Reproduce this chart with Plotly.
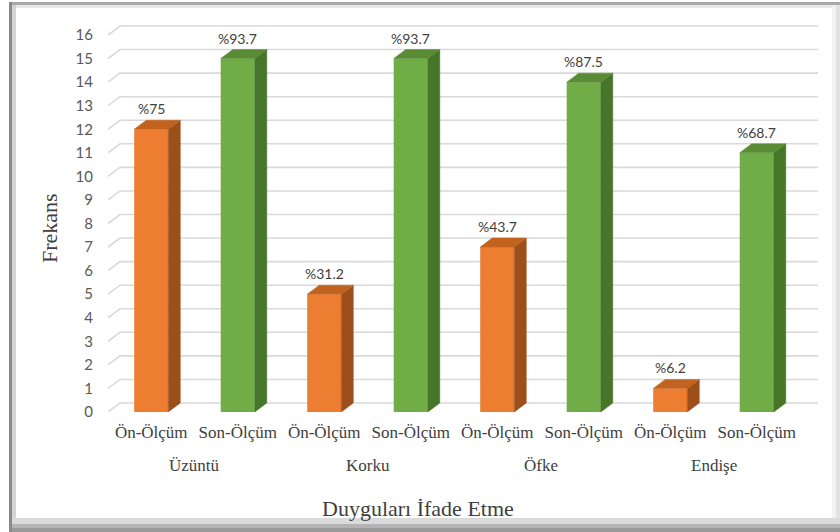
import plotly.graph_objects as go

# ---- data ----
groups = ["Üzüntü", "Korku", "Öfke", "Endişe"]
measures = ["Ön-Ölçüm", "Son-Ölçüm"]
pre_values = [12, 5, 7, 1]
post_values = [15, 15, 14, 11]
pre_labels = ["%75", "%31.2", "%43.7", "%6.2"]
post_labels = ["%93.7", "%93.7", "%87.5", "%68.7"]
y_ticks = list(range(0, 17))

# ---- geometry (pixel layout) ----
W, H = 840, 532
L, R, T, B = 108, 22, 20, 120
PW, PH = W - L - R, H - T - B
SLOT = 86.5                      # px per bar slot
PXY = 23.5625                    # px per unit value
XR = [-0.5, -0.5 + PW / SLOT]
YR = [0, PH / PXY]
DX = 12 / SLOT                   # depth offset (x units)
DY = 9 / PXY                     # depth offset (y units)
HW = 0.197                       # half bar width

ORANGE = dict(front="#ED7D31", side="#9C4E1B", top="#C2621F")
GREEN = dict(front="#70AD47", side="#47762A", top="#5A8C35")

xs, vals, labs, cols = [], [], [], []
for i in range(len(groups)):
    xs += [2 * i, 2 * i + 1]
    vals += [pre_values[i], post_values[i]]
    labs += [pre_labels[i], post_labels[i]]
    cols += [ORANGE, GREEN]

fig = go.Figure()

shapes = []
# gridlines with perspective (back wall), drawn below the traces
for v in y_ticks:
    shapes.append(dict(type="path", xref="x", yref="y", layer="below",
                       path=f"M{XR[0]},{v} L{XR[0] + DX},{v + DY} L{XR[1]},{v + DY}",
                       line=dict(color="#D9D9D9", width=1.6)))

# side and top faces
for x, v, c in zip(xs, vals, cols):
    x0, x1 = x - HW, x + HW
    fig.add_trace(go.Scatter(
        x=[x1, x1 + DX, x1 + DX, x1, x1], y=[0, DY, v + DY, v, 0],
        mode="lines", fill="toself", fillcolor=c["side"],
        line=dict(color=c["side"], width=0.5),
        hoverinfo="skip", showlegend=False))
    fig.add_trace(go.Scatter(
        x=[x0, x0 + DX, x1 + DX, x1, x0], y=[v, v + DY, v + DY, v, v],
        mode="lines", fill="toself", fillcolor=c["top"],
        line=dict(color=c["top"], width=0.5),
        hoverinfo="skip", showlegend=False))

# front faces
fig.add_trace(go.Bar(x=xs, y=vals, width=2 * HW,
                     marker=dict(color=[c["front"] for c in cols], line=dict(width=0)),
                     hoverinfo="skip", showlegend=False))

annotations = []
for x, v, t in zip(xs, vals, labs):
    annotations.append(dict(x=x, y=v + DY, xref="x", yref="y", text=t,
                            showarrow=False, yanchor="bottom", yshift=1,
                            font=dict(family="Lato", size=14, color="#404040")))
for i, g in enumerate(groups):
    annotations.append(dict(x=2 * i + 0.5, y=0, xref="x", yref="paper", text=g,
                            showarrow=False, yanchor="middle", yshift=-53,
                            font=dict(family="Liberation Serif", size=17, color="#404040")))

def px(p):
    return (p - L) / PW

def py(p):
    return (H - B - p) / PH

annotations.append(dict(x=px(418), y=py(508), xref="paper", yref="paper",
                        text="Duyguları İfade Etme", showarrow=False,
                        xanchor="center", yanchor="middle",
                        font=dict(family="Liberation Serif", size=22, color="#404040")))
annotations.append(dict(x=px(50), y=py(228), xref="paper", yref="paper",
                        text="Frekans", showarrow=False, textangle=-90,
                        xanchor="center", yanchor="middle",
                        font=dict(family="Liberation Serif", size=22, color="#404040")))

# frame decoration
def rect(x0, y0, x1, y1, color):
    shapes.append(dict(type="rect", xref="paper", yref="paper",
                       x0=px(x0), x1=px(x1), y0=py(y1), y1=py(y0),
                       fillcolor=color, line=dict(width=0), layer="below"))
rect(10, 2, 840, 5, "#A8A8A8")
rect(12, 5, 840, 8, "#E8E8E8")
rect(9, 2, 12, 532, "#8A8A8A")
rect(12, 5, 16, 532, "#D4D4D4")
rect(832, 5, 836, 520, "#F2F2F2")
rect(836, 5, 840, 520, "#E2E2E2")
rect(12, 518, 840, 524, "#DADADA")
rect(12, 524, 840, 528, "#B4B4B4")
rect(12, 528, 840, 532, "#9A9A9A")

fig.update_layout(
    width=W, height=H,
    margin=dict(l=L, r=R, t=T, b=B, pad=0),
    paper_bgcolor="white", plot_bgcolor="rgba(0,0,0,0)",
    annotations=annotations, shapes=shapes,
    barmode="overlay",
    xaxis=dict(range=XR, tickmode="array", tickvals=xs,
               ticktext=[measures[i % 2] for i in range(len(xs))],
               showgrid=False, zeroline=False, showline=False, ticks="",
               ticklabelstandoff=8,
               tickfont=dict(family="Liberation Serif", size=17, color="#404040")),
    yaxis=dict(range=YR, tickmode="array", tickvals=y_ticks,
               showgrid=False, zeroline=False, showline=False, ticks="",
               ticklabelstandoff=14,
               tickfont=dict(family="Lato", size=15, color="#595959")),
)

fig.write_html("out.html")
